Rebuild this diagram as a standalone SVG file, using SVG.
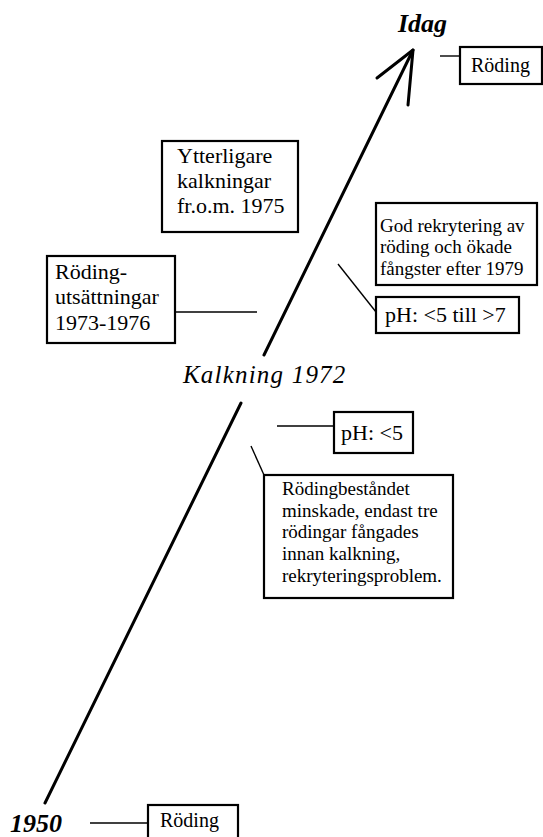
<svg xmlns="http://www.w3.org/2000/svg" width="543" height="837" viewBox="0 0 543 837">
<style>
.box{fill:#fff;stroke:#000;stroke-width:2.2}
.t{font-family:"Liberation Serif","Times New Roman",serif;fill:#000}
.c{stroke:#000;stroke-width:1.4;fill:none}
.axis{stroke:#000;stroke-width:3;fill:none;stroke-linecap:round}
</style>
<rect width="543" height="837" fill="#fff"/>
<g id="connectors">
<line class="axis" x1="45" y1="803" x2="241" y2="403"/>
<line class="axis" x1="264" y1="355" x2="413" y2="50"/>
<polyline class="axis" points="377,78 413,50 408,105" stroke-width="4" stroke-linejoin="round"/>
<line class="c" x1="440" y1="56" x2="460" y2="56"/>
<line class="c" x1="175" y1="312" x2="257" y2="312"/>
<line class="c" x1="338" y1="264" x2="376" y2="312"/>
<line class="c" x1="277" y1="426" x2="334" y2="426"/>
<line class="c" x1="251" y1="446" x2="264" y2="475"/>
<line class="c" x1="90" y1="823" x2="148" y2="823"/>
</g>
<g id="idag"><text class="t" x="398" y="32" font-size="26" font-weight="bold" font-style="italic">Idag</text></g>
<g id="roding-top"><rect class="box" x="460" y="47" width="82" height="37"/><text class="t" x="471" y="72" font-size="20">Röding</text></g>
<g id="ytterligare"><rect class="box" x="162" y="141" width="136" height="91"/>
<text class="t" font-size="22"><tspan x="177" y="163">Ytterligare</tspan><tspan x="177" y="188">kalkningar</tspan><tspan x="177" y="213">fr.o.m. 1975</tspan></text></g>
<g id="god"><rect class="box" x="376" y="203" width="161" height="82"/>
<text class="t" font-size="19"><tspan x="380" y="232">God rekrytering av</tspan><tspan x="380" y="253">röding och ökade</tspan><tspan x="380" y="275">fångster efter 1979</tspan></text></g>
<g id="utsattningar"><rect class="box" x="47" y="256" width="128" height="87"/>
<text class="t" font-size="22"><tspan x="55" y="279">Röding-</tspan><tspan x="55" y="304">utsättningar</tspan><tspan x="55" y="330">1973-1976</tspan></text></g>
<g id="ph-high"><rect class="box" x="376" y="297" width="143" height="36"/><text class="t" x="385" y="322" font-size="22">pH: &lt;5 till &gt;7</text></g>
<g id="kalkning"><text class="t" x="183" y="383" font-size="25" font-style="italic" letter-spacing="1.2">Kalkning 1972</text></g>
<g id="ph-low"><rect class="box" x="334" y="412" width="79" height="41"/><text class="t" x="341" y="440" font-size="22">pH: &lt;5</text></g>
<g id="rodingbestandet"><rect class="box" x="264" y="475" width="189" height="123"/>
<text class="t" font-size="19"><tspan x="282" y="495">Rödingbeståndet</tspan><tspan x="282" y="517">minskade, endast tre</tspan><tspan x="282" y="538">rödingar fångades</tspan><tspan x="282" y="560">innan kalkning,</tspan><tspan x="282" y="582">rekryteringsproblem.</tspan></text></g>
<g id="y1950"><text class="t" x="10" y="832" font-size="26" font-weight="bold" font-style="italic">1950</text></g>
<g id="roding-bottom"><rect class="box" x="148" y="805" width="90" height="40"/><text class="t" x="160" y="827" font-size="20">Röding</text></g>
</svg>
